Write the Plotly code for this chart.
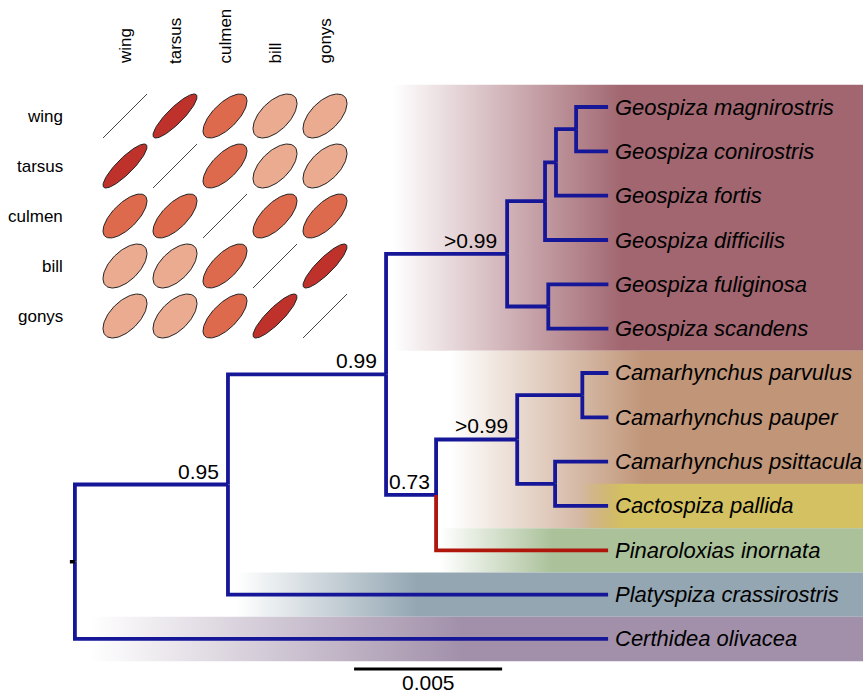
import numpy as np
import plotly.graph_objects as go
from plotly.colors import sample_colorscale

# ------------------------- data -------------------------
tip_names = ["Geospiza magnirostris", "Geospiza conirostris", "Geospiza fortis",
             "Geospiza difficilis", "Geospiza fuliginosa", "Geospiza scandens",
             "Camarhynchus parvulus", "Camarhynchus pauper", "Camarhynchus psittacula",
             "Cactospiza pallida", "Pinaroloxias inornata", "Platyspiza crassirostris",
             "Certhidea olivacea"]

# tree edges (parent -> child) with branch lengths (substitutions / site)
edge_parent = ["root", "root", "n095", "n095", "n099", "n099", "nGeo", "nGeo",
               "nGeo4", "nGeo4", "nGeo3", "nGeo3", "nMC", "nMC", "nFS", "nFS",
               "n073", "n073", "nCam", "nCam", "nPP", "nPP", "nPsP", "nPsP"]
edge_child = ["n095", "Certhidea olivacea", "n099", "Platyspiza crassirostris",
              "nGeo", "n073", "nGeo4", "nFS", "nGeo3", "Geospiza difficilis",
              "nMC", "Geospiza fortis", "Geospiza magnirostris", "Geospiza conirostris",
              "Geospiza fuliginosa", "Geospiza scandens", "nCam", "Pinaroloxias inornata",
              "nPP", "nPsP", "Camarhynchus parvulus", "Camarhynchus pauper",
              "Camarhynchus psittacula", "Cactospiza pallida"]
edge_length = [0.00517, 0.01801, 0.00534, 0.01284, 0.00409, 0.00169, 0.00128, 0.00139,
               0.00037, 0.00213, 0.00068, 0.00176, 0.00108, 0.00108, 0.00203, 0.00203,
               0.00274, 0.00581, 0.00220, 0.00128, 0.00088, 0.00088, 0.00179, 0.00179]

support_nodes = ["n095", "n099", "nGeo", "n073", "nCam"]
support_labels = ["0.95", "0.99", ">0.99", "0.73", ">0.99"]

highlight_edge = "Pinaroloxias inornata"   # branch drawn in red

# clade colour bands: first tip, last tip
band_names = ["Geospiza", "Camarhynchus", "Cactospiza", "Pinaroloxias", "Platyspiza", "Certhidea"]
band_first = ["Geospiza magnirostris", "Camarhynchus parvulus", "Cactospiza pallida",
              "Pinaroloxias inornata", "Platyspiza crassirostris", "Certhidea olivacea"]
band_last = ["Geospiza scandens", "Cactospiza pallida", "Cactospiza pallida",
             "Pinaroloxias inornata", "Platyspiza crassirostris", "Certhidea olivacea"]

scale_bar_length = 0.005
scale_bar_label = "0.005"

# trait correlation matrix
traits = ["wing", "tarsus", "culmen", "bill", "gonys"]
corr = [[1.00, 0.87, 0.68, 0.57, 0.57],
        [0.87, 1.00, 0.68, 0.57, 0.57],
        [0.68, 0.68, 1.00, 0.68, 0.68],
        [0.57, 0.57, 0.68, 1.00, 0.87],
        [0.57, 0.57, 0.68, 0.87, 1.00]]

# ------------------------- styles -------------------------
FONT = "Liberation Sans, Arial, Helvetica, sans-serif"
BLUE = "rgb(22,22,152)"
RED = "rgb(175,22,12)"
band_style = {  # colour, gradient start / stop (branch-length axis)
    "Geospiza":     ("rgba(161,102,112,{a})", 0.01074, 0.01851),
    "Camarhynchus": ("rgba(192,149,120,{a})", 0.01267, 0.01926),
    "Cactospiza":   ("rgba(211,193,98,{a})",  0.01700, 0.01851),
    "Pinaroloxias": ("rgba(170,193,154,{a})", 0.01233, 0.01615),
    "Platyspiza":   ("rgba(147,166,178,{a})", 0.00547, 0.01159),
    "Certhidea":    ("rgba(162,144,170,{a})", 0.00051, 0.01307),
}
support_xshift = [-7, -7, -8, -4, -7]
corr_colorscale = [[0.0, "rgb(255,255,255)"], [0.57, "rgb(235,171,144)"],
                   [0.68, "rgb(222,106,78)"], [0.87, "rgb(191,49,43)"],
                   [1.0, "rgb(103,0,31)"]]

# ------------------------- layout of the tree -------------------------
children = {}
blen = {}
for p, c, l in zip(edge_parent, edge_child, edge_length):
    children.setdefault(p, []).append(c)
    blen[c] = l

depth = {"root": 0.0}
def set_depth(n):
    for c in children.get(n, []):
        depth[c] = depth[n] + blen[c]
        set_depth(c)
set_depth("root")

ypos = {name: i for i, name in enumerate(tip_names)}
def set_y(n):
    if n in ypos:
        return ypos[n]
    ys = [set_y(c) for c in children[n]]
    ypos[n] = (ys[0] + ys[-1]) / 2
    return ypos[n]
set_y("root")

fig = go.Figure()

# colour bands with horizontal gradients
x_right = max(depth.values()) * 1.6
for name, first, last in zip(band_names, band_first, band_last):
    col, g0, g1 = band_style[name]
    y0 = ypos[first] - 0.5
    y1 = ypos[last] + 0.5
    start_col = col.format(a=0) if name == "Cactospiza" else "rgba(255,255,255,1)"
    fig.add_trace(go.Scatter(
        x=[g0, x_right, x_right, g0, g0], y=[y0, y0, y1, y1, y0],
        mode="lines", line=dict(width=0), fill="toself",
        fillgradient=dict(type="horizontal", start=g0, stop=g1,
                          colorscale=[[0, start_col], [1, col.format(a=1)]]),
        hoverinfo="skip", showlegend=False))

# branches
segs = {BLUE: ([], []), RED: ([], [])}
for p, c in zip(edge_parent, edge_child):
    color = RED if c == highlight_edge else BLUE
    xs, ys = segs[color]
    xs += [depth[p], depth[p], depth[c], None]
    ys += [ypos[p], ypos[c], ypos[c], None]
for color, (xs, ys) in segs.items():
    fig.add_trace(go.Scatter(x=xs, y=ys, mode="lines",
                             line=dict(color=color, width=3.8),
                             hoverinfo="skip", showlegend=False))

# root stub
fig.add_trace(go.Scatter(x=[-0.00017, 0], y=[ypos["root"], ypos["root"]], mode="lines",
                         line=dict(color="black", width=3.5), hoverinfo="skip", showlegend=False))

annotations = []
for name in tip_names:
    annotations.append(dict(x=depth[name], y=ypos[name], xref="x", yref="y",
                            text="<i>" + name + "</i>", showarrow=False,
                            xanchor="left", yanchor="middle", xshift=5,
                            font=dict(family=FONT, size=22, color="black")))
for n, lab, xs in zip(support_nodes, support_labels, support_xshift):
    annotations.append(dict(x=depth[n], y=ypos[n], xref="x", yref="y", text=lab,
                            showarrow=False, xanchor="right", yanchor="bottom",
                            xshift=xs, yshift=0,
                            font=dict(family=FONT, size=21, color="black")))

# scale bar
sb_x0 = 0.00943
sb_y = 12.68
fig.add_trace(go.Scatter(x=[sb_x0, sb_x0 + scale_bar_length], y=[sb_y, sb_y], mode="lines",
                         line=dict(color="black", width=3), hoverinfo="skip", showlegend=False))
annotations.append(dict(x=sb_x0 + scale_bar_length / 2, y=sb_y, xref="x", yref="y",
                        text=scale_bar_label, showarrow=False, xanchor="center",
                        yanchor="top", yshift=0,
                        font=dict(family=FONT, size=21, color="black")))

# ------------------------- correlation ellipses -------------------------
t = np.linspace(0, 2 * np.pi, 120)
half = 0.44
for j, rname in enumerate(traits):
    for i, cname in enumerate(traits):
        r = corr[j][i]
        d = np.arccos(min(r, 1.0))
        ex = np.cos(t + d / 2)
        ey = np.cos(t - d / 2)
        if r >= 0.999:
            fig.add_trace(go.Scatter(x=[i - half, i + half], y=[j + half, j - half],
                                     xaxis="x2", yaxis="y2", mode="lines",
                                     line=dict(color="rgb(70,70,70)", width=1),
                                     hoverinfo="skip", showlegend=False))
        else:
            fill = sample_colorscale(corr_colorscale, [r])[0]
            fig.add_trace(go.Scatter(x=i + half * ex, y=j - half * ey,
                                     xaxis="x2", yaxis="y2", mode="lines",
                                     fill="toself", fillcolor=fill,
                                     line=dict(color="rgb(35,35,35)", width=1),
                                     hoverinfo="skip", showlegend=False))

for j, rname in enumerate(traits):
    annotations.append(dict(x=-1.2, y=j, xref="x2", yref="y2", text=rname, showarrow=False,
                            xanchor="right", yanchor="middle",
                            font=dict(family=FONT, size=17, color="black")))
for i, cname in enumerate(traits):
    annotations.append(dict(x=i, y=-1.0, xref="x2", yref="y2", text=cname, showarrow=False,
                            xanchor="center", yanchor="bottom", textangle=-90,
                            font=dict(family=FONT, size=17, color="black")))

ax = dict(visible=False, showgrid=False, zeroline=False, fixedrange=True)
fig.update_layout(
    width=863, height=693,
    margin=dict(l=0, r=0, t=0, b=0),
    paper_bgcolor="white", plot_bgcolor="white",
    showlegend=False,
    xaxis=dict(range=[-0.00253, 0.02662], **ax),
    yaxis=dict(range=[13.219, -2.414], **ax),
    xaxis2=dict(range=[-2.5, 14.76], overlaying="x", anchor="y2", **ax),
    yaxis2=dict(range=[11.54, -2.32], overlaying="y", anchor="x2", **ax),
    annotations=annotations,
)

fig.write_html("out.html", config={"displayModeBar": False},
               post_script="document.body.style.margin='0px';document.body.style.overflow='hidden';")
